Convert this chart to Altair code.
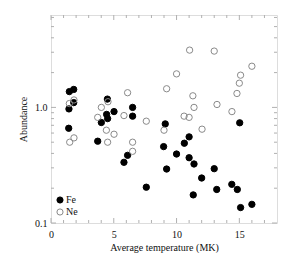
import altair as alt
import pandas as pd

fe_temp = [1.46, 1.81, 1.43, 1.81, 1.41, 4.49, 4.43, 4.51, 4.01, 5.02, 3.72, 6.5, 6.5,
           6.1, 5.81, 7.59, 9.1, 8.97, 9.21, 10.0, 11.0, 10.62, 11.0, 11.39, 13.0,
           12.0, 11.33, 13.2, 14.4, 14.84, 15.03, 15.1, 16.0]
fe_abund = [1.37, 1.43, 0.97, 1.10, 0.66, 1.18, 0.87, 0.80, 0.74, 0.92, 0.51, 1.0, 0.84,
            0.385, 0.335, 0.204, 0.72, 0.458, 0.293, 0.395, 0.556, 0.49, 0.367, 0.324, 0.295,
            0.245, 0.175, 0.195, 0.216, 0.195, 0.736, 0.136, 0.145]
ne_temp = [1.46, 1.83, 1.49, 1.83, 3.72, 4.01, 4.54, 4.41, 4.51, 5.02, 6.1, 5.81, 6.5,
           6.5, 7.59, 9.0, 9.21, 10.0, 11.04, 13.0, 11.3, 11.39, 10.6, 11.0, 12.03,
           13.22, 14.41, 14.81, 15.0, 15.1, 16.0]
ne_abund = [1.08, 1.16, 0.50, 0.545, 0.82, 1.0, 1.12, 0.635, 0.50, 0.586, 1.34, 0.85, 0.50,
            0.417, 0.76, 0.635, 1.45, 1.95, 3.13, 3.07, 1.26, 1.0, 0.84, 0.82, 0.648,
            1.06, 0.92, 1.32, 1.62, 1.90, 2.27]

x_major = [0, 5, 10, 15]
x_minor = [1, 2, 3, 4, 6, 7, 8, 9, 11, 12, 13, 14, 16, 17]
y_major = [0.1, 1.0]
y_minor = [0.2, 0.3, 0.4, 0.5, 0.6, 0.7, 0.8, 0.9, 2, 3, 4, 5, 6]

W, H = 226, 208
FONT = "Liberation Serif"
TICK = "#b0b0b0"

df = pd.DataFrame({
    "t": fe_temp + ne_temp,
    "a": fe_abund + ne_abund,
    "el": ["Fe"] * len(fe_temp) + ["Ne"] * len(ne_temp),
})

xs = alt.Scale(domain=[0, 18], nice=False, zero=False)
ys = alt.Scale(type="log", domain=[0.1, 6.3], nice=False)

x_axis = alt.Axis(values=x_major, title="Average temperature (MK)", ticks=False, domain=False,
                  grid=False, labelPadding=6, titlePadding=3, labelFlush=False)
y_axis = alt.Axis(values=y_major, format=".1f", title="Abundance", ticks=False, domain=False,
                  grid=False, labelPadding=4, titlePadding=6)

leg = alt.Legend(title=None, orient="none", legendX=4, legendY=180,
                 symbolSize=38, rowPadding=0, padding=0, symbolStrokeWidth=1, labelOffset=1)

points = alt.Chart(df).mark_point(shape="circle", size=40, strokeWidth=1, opacity=1, filled=False).encode(
    x=alt.X("t:Q", scale=xs, axis=x_axis),
    y=alt.Y("a:Q", scale=ys, axis=y_axis),
    fill=alt.Fill("el:N", scale=alt.Scale(domain=["Fe", "Ne"], range=["#000000", "transparent"]), legend=leg),
    stroke=alt.Stroke("el:N", scale=alt.Scale(domain=["Fe", "Ne"], range=["#000000", "#8a8a8a"]), legend=leg),
)


def xticks(vals, length):
    d = pd.DataFrame({"v": vals})
    bot = alt.Chart(d).mark_rule(color=TICK, strokeWidth=1).encode(
        x=alt.X("v:Q", scale=xs, axis=x_axis), y=alt.value(H), y2=alt.value(H - length))
    top = alt.Chart(d).mark_rule(color=TICK, strokeWidth=1).encode(
        x=alt.X("v:Q", scale=xs, axis=x_axis), y=alt.value(0), y2=alt.value(length))
    return [bot, top]


def yticks(vals, length):
    d = pd.DataFrame({"v": vals})
    left = alt.Chart(d).mark_rule(color=TICK, strokeWidth=1).encode(
        y=alt.Y("v:Q", scale=ys, axis=y_axis), x=alt.value(0), x2=alt.value(length))
    right = alt.Chart(d).mark_rule(color=TICK, strokeWidth=1).encode(
        y=alt.Y("v:Q", scale=ys, axis=y_axis), x=alt.value(W), x2=alt.value(W - length))
    return [left, right]


layers = [points] + xticks(x_major, 5) + xticks(x_minor, 3) + yticks(y_major, 5) + yticks(y_minor, 3)

chart = alt.layer(*layers).properties(
    width=W, height=H,
    autosize=alt.AutoSizeParams(type="none"),
    padding={"left": 43, "top": 7, "right": 8, "bottom": 30},
).configure_view(stroke="#c8c8c8", strokeWidth=1).configure(
    background="white", font=FONT
).configure_axis(
    labelFont=FONT, titleFont=FONT, labelFontSize=10, titleFontSize=10,
    titleFontWeight="normal", labelColor="#111", titleColor="#111"
).configure_legend(
    labelFont=FONT, labelFontSize=10, labelColor="#111"
)

chart.save("out.html", embed_options={"renderer": "svg", "actions": False})
